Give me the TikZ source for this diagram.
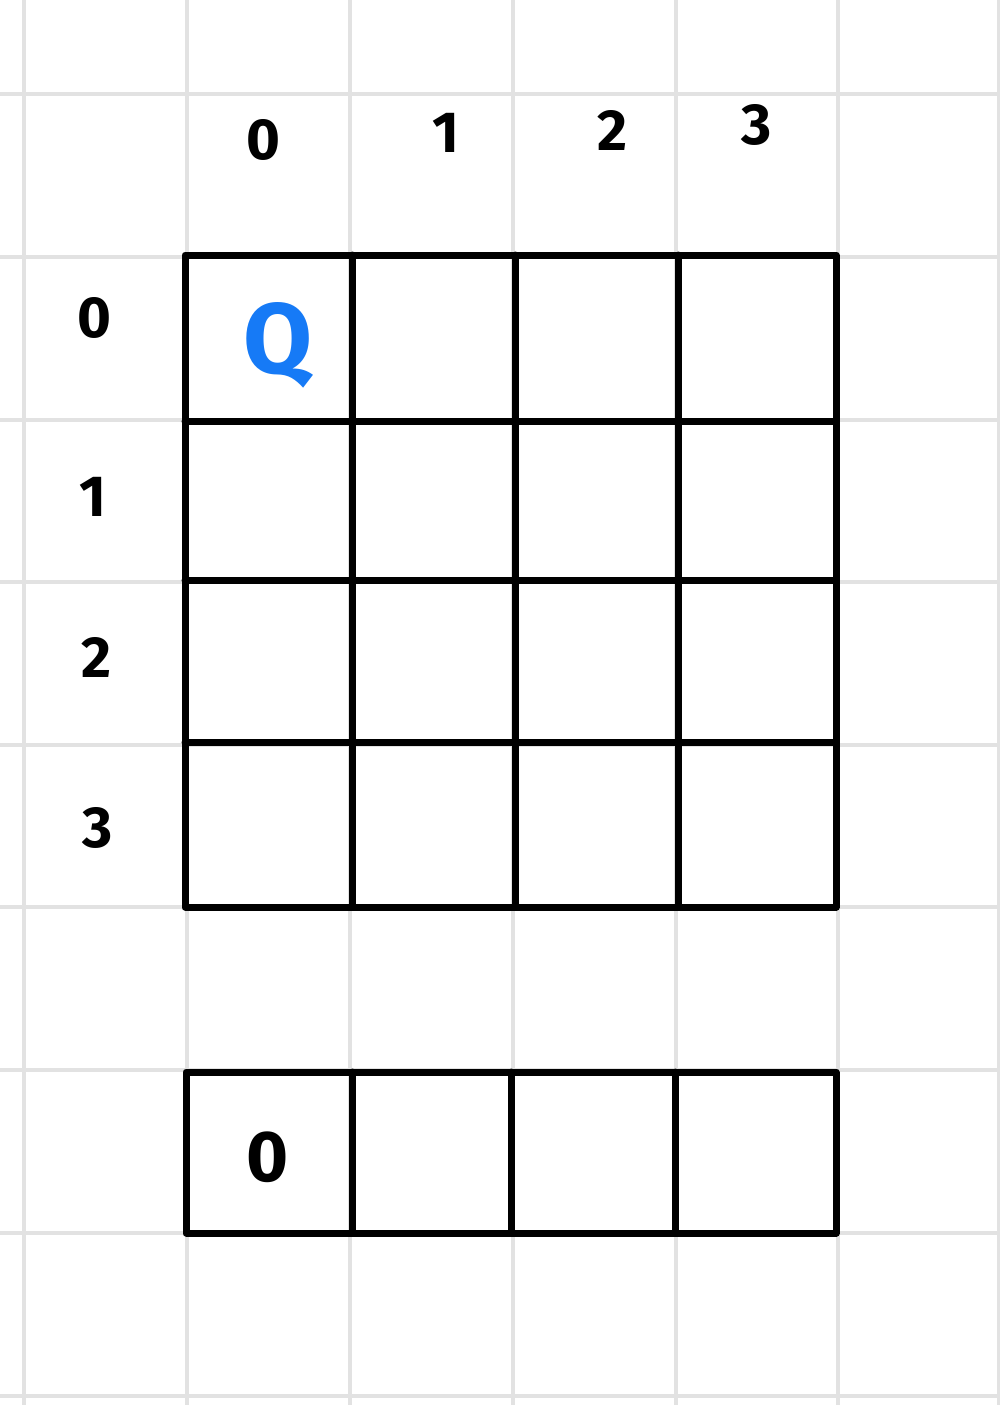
\documentclass[tikz,border=0pt]{standalone}
\usepackage{fontspec}
\setmainfont{Fira Sans}
\definecolor{paper}{RGB}{226,226,226}
\definecolor{qblue}{RGB}{22,122,246}
\begin{document}
\begin{tikzpicture}[x=1pt,y=-1pt,
  paperline/.style={draw=paper,line width=4pt},
  ink/.style={draw=black,line width=7pt,line cap=round,line join=round},
  lbl/.style={font=\fontsize{58}{60}\selectfont\bfseries,inner sep=0pt},
  qlbl/.style={font=\fontsize{100}{100}\selectfont\bfseries,text=qblue,inner sep=0pt},
  celltxt/.style={font=\fontsize{72}{72}\selectfont\bfseries,inner sep=0pt}]
\useasboundingbox[fill=white] (0,0) rectangle (1000,1405);
% graph paper
\foreach \x in {24,187,350,513,676,838,999}
  \draw[paperline] (\x,0) -- (\x,1405);
\foreach \y in {94,257,420,582,745,907,1070,1233,1396}
  \draw[paperline] (0,\y) -- (1000,\y);
% main 4x4 grid
\draw[ink] (185,255) rectangle (836,907);
\foreach \x in {352,515,678}
  \draw[ink] (\x,255) -- (\x,907);
\foreach \y in {421,580,742}
  \draw[ink] (185,\y) -- (836,\y);
% bottom row
\draw[ink] (186,1072) rectangle (836,1233);
\foreach \x in {352,511,675}
  \draw[ink] (\x,1072) -- (\x,1233);
% column labels
\node[lbl] (c0) at (263,140) {0};
\node[lbl] (c1) at (446,133) {1};
\node[lbl] (c2) at (612,130) {2};
\node[lbl] (c3) at (757,125) {3};
% row labels
\node[lbl] (r0) at (94,318) {0};
\node[lbl] (r1) at (93,497) {1};
\node[lbl] (r2) at (96,657) {2};
\node[lbl] (r3) at (98,828) {3};
% queen
\node[qlbl] (q) at (278,345) {Q};
% bottom cell value
\node[celltxt] (v0) at (268,1157) {0};
\end{tikzpicture}
\end{document}
